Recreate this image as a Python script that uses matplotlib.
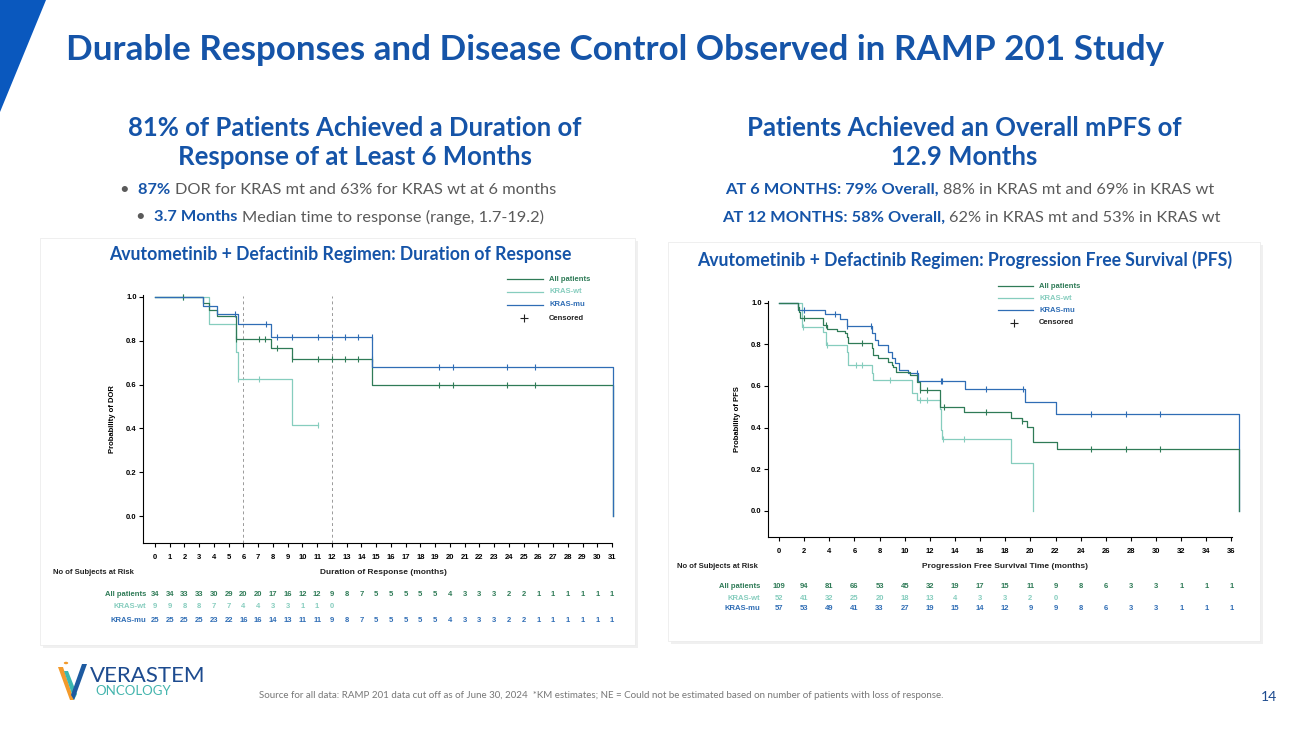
import numpy as np
import matplotlib
matplotlib.use('Agg')
import matplotlib.pyplot as plt
from matplotlib.lines import Line2D
from matplotlib.patches import Rectangle, Polygon, Circle
from matplotlib.transforms import blended_transform_factory

W, H = 1300, 731
HEAD = ['Lato', 'DejaVu Sans']
CHART = ['Liberation Sans', 'DejaVu Sans']
plt.rcParams['font.family'] = CHART

BLUE = '#1554A8'
GREEN = '#2F7B57'
WT = '#86CDBE'
MU = '#2F6DB5'
GREY = '#5A5A5A'

groups = ['All patients', 'KRAS-wt', 'KRAS-mu']
group_colors = [GREEN, WT, MU]

# ---- Duration of response (months) ----
dor_all_t = [0, 3.23, 3.68, 4.18, 5.5, 7.9, 9.27, 14.73, 31.05]
dor_all_s = [1.0, 0.971, 0.941, 0.912, 0.81, 0.765, 0.717, 0.596, 0.0]
dor_all_c = [1.92, 5.5, 7.07, 7.45, 8.25, 9.27, 11.08, 11.98, 12.9, 13.8, 14.7,
             19.3, 20.2, 23.9, 25.76]
dor_wt_t = [0, 3.68, 5.5, 5.6, 9.27, 11.08]
dor_wt_s = [1.0, 0.875, 0.75, 0.625, 0.417, 0.417]
dor_wt_c = [1.92, 5.6, 7.07, 11.08]
dor_mu_t = [0, 3.23, 4.18, 5.6, 7.9, 14.73, 31.05]
dor_mu_s = [1.0, 0.96, 0.92, 0.877, 0.818, 0.68, 0.0]
dor_mu_c = [5.45, 7.5, 8.25, 9.27, 11.08, 11.98, 12.9, 13.8, 14.7,
            19.3, 20.2, 23.9, 25.76]

dor_months = list(range(0, 32))
dor_risk_all = [34, 34, 33, 33, 30, 29, 20, 20, 17, 16, 12, 12, 9, 8, 7, 5, 5, 5, 5, 5,
                4, 3, 3, 3, 2, 2, 1, 1, 1, 1, 1, 1]
dor_risk_wt = [9, 9, 8, 8, 7, 7, 4, 4, 3, 3, 1, 1, 0]
dor_risk_mu = [25, 25, 25, 25, 23, 22, 16, 16, 14, 13, 11, 11, 9, 8, 7, 5, 5, 5, 5, 5,
               4, 3, 3, 3, 2, 2, 1, 1, 1, 1, 1, 1]

# ---- Progression free survival (months) ----
pfs_all_t = [0, 1.5, 1.6, 1.7, 3.53, 3.8, 4.6, 5.25, 5.38, 5.52, 7.37, 7.5, 7.9, 8.7,
             8.97, 9.1, 9.28, 10.42, 10.95, 11.2, 12.8, 14.75, 18.43, 19.3, 19.7, 20.23,
             22.1, 36.6]
pfs_all_s = [1.0, 0.98, 0.955, 0.925, 0.893, 0.872, 0.865, 0.856, 0.837, 0.805, 0.78,
             0.749, 0.733, 0.716, 0.70, 0.689, 0.668, 0.652, 0.62, 0.578, 0.50, 0.473,
             0.444, 0.433, 0.404, 0.332, 0.295, 0.0]
pfs_all_c = [1.5, 1.95, 3.74, 6.59, 11.2, 11.77, 13.1, 16.47, 19.37, 24.8, 27.6, 30.3]
pfs_wt_t = [0, 1.8, 3.53, 3.7, 5.38, 5.5, 7.37, 7.5, 10.6, 10.95, 12.8, 12.85, 12.9,
            12.95, 18.43, 20.23]
pfs_wt_s = [1.0, 0.885, 0.86, 0.797, 0.765, 0.70, 0.66, 0.628, 0.564, 0.532, 0.49, 0.44,
            0.39, 0.345, 0.231, 0.0]
pfs_wt_c = [1.9, 3.8, 6.1, 6.63, 8.83, 11.2, 11.75, 13.07, 14.75]
pfs_mu_t = [0, 1.55, 3.66, 4.85, 5.38, 7.37, 7.64, 7.9, 8.7, 9.0, 9.23, 9.55, 10.29,
            11.03, 14.8, 19.55, 22.05, 36.6]
pfs_mu_s = [1.0, 0.965, 0.945, 0.92, 0.89, 0.853, 0.82, 0.797, 0.765, 0.734, 0.71, 0.676,
            0.662, 0.625, 0.585, 0.525, 0.465, 0.0]
pfs_mu_c = [1.95, 4.45, 5.4, 7.3, 10.95, 12.85, 12.95, 16.5, 19.4, 24.8, 27.6, 30.3]

pfs_months = list(range(0, 37, 2))
pfs_risk_all = [109, 94, 81, 66, 53, 45, 32, 19, 17, 15, 11, 9, 8, 6, 3, 3, 1, 1, 1]
pfs_risk_wt = [52, 41, 32, 25, 20, 18, 13, 4, 3, 3, 2, 0]
pfs_risk_mu = [57, 53, 49, 41, 33, 27, 19, 15, 14, 12, 9, 9, 8, 6, 3, 3, 1, 1, 1]

fig = plt.figure(figsize=(W / 100, H / 100), dpi=100)
fig.patch.set_facecolor('white')


def fy(y):
    return 1 - y / H


def ftext(x, y, s, **kw):
    return fig.text(x / W, fy(y), s, **kw)


def add_axes_px(l, t, r, b):
    ax = fig.add_axes([l / W, fy(b), (r - l) / W, (b - t) / H])
    ax.set_zorder(3)
    return ax


def panel(l, t, r, b):
    fig.add_artist(Rectangle((l / W + 0.002, fy(b) - 0.004), (r - l) / W, (b - t) / H,
                             transform=fig.transFigure, facecolor='#000000', alpha=0.06,
                             edgecolor='none', zorder=0))
    fig.add_artist(Rectangle((l / W, fy(b)), (r - l) / W, (b - t) / H,
                             transform=fig.transFigure, facecolor='white',
                             edgecolor='#ececec', lw=0.6, zorder=0.5))


def rich_line(xc, y, parts, size):
    r = fig.canvas.get_renderer()
    objs = []
    for s, bold, col in parts:
        objs.append(ftext(0, y, s, fontsize=size, fontweight='bold' if bold else 'normal',
                          color=col, family=HEAD, va='center', ha='left'))
    widths = [o.get_window_extent(r).width for o in objs]
    x = xc - sum(widths) / 2
    for o, w in zip(objs, widths):
        o.set_x(x / W)
        x += w


def km(ax, t, s, cens, color, z):
    ax.step(t, s, where='post', color=color, lw=0.9, zorder=z, clip_on=False)
    cy = [s[np.searchsorted(t, c, side='right') - 1] for c in cens]
    ax.plot(cens, cy, ls='none', marker='|', ms=5, mew=0.8, color=color, zorder=z,
            clip_on=False)


def style_axes(ax, xticks, ylabel):
    for side in ['top', 'right']:
        ax.spines[side].set_visible(False)
    for side in ['left', 'bottom']:
        ax.spines[side].set_linewidth(0.8)
    ax.set_xticks(xticks)
    ax.set_yticks([0, 0.2, 0.4, 0.6, 0.8, 1.0])
    ax.set_yticklabels(['0.0', '0.2', '0.4', '0.6', '0.8', '1.0'])
    ax.tick_params(axis='x', length=3, width=0.8, labelsize=5.5, pad=5)
    ax.tick_params(axis='y', length=3, width=0.8, labelsize=5.5, pad=1.5)
    for lab in ax.get_xticklabels() + ax.get_yticklabels():
        lab.set_fontweight('bold')
    ax.set_ylabel(ylabel, fontsize=5.5, fontweight='bold', labelpad=7)
    ax.patch.set_alpha(0)


def legend(x1, x2, xl, ys, xm):
    for name, col, y in zip(groups, group_colors, ys):
        fig.add_artist(Line2D([x1 / W, x2 / W], [fy(y), fy(y)], color=col, lw=0.9,
                              transform=fig.transFigure, zorder=4))
        ftext(xl, y, name, fontsize=5.5, fontweight='bold', color=col, va='center')
    fig.add_artist(Line2D([xm / W], [fy(ys[-1] + 13)], marker='+', ms=6, mew=0.8,
                          color='#222222', transform=fig.transFigure, zorder=4))
    ftext(xl, ys[-1] + 13, 'Censored', fontsize=5.5, fontweight='bold', color='#222222',
          va='center')


def risk_table(ax, months, rows, label_x, row_ys, head_x, head_y, xlabel, xlabel_x):
    tr = blended_transform_factory(ax.transData, fig.transFigure)
    for name, col, vals, y in zip(groups, group_colors, rows, row_ys):
        ftext(label_x, y, name, fontsize=5.5, fontweight='bold', color=col,
              ha='right', va='center')
        for m, v in zip(months, vals):
            ax.text(m, fy(y), str(v), transform=tr, fontsize=5.5, fontweight='bold',
                    color=col, ha='center', va='center', clip_on=False)
    ftext(head_x, head_y, 'No of Subjects at Risk', fontsize=5.5, fontweight='bold',
          color='#222222', va='center')
    ax.text(xlabel_x, fy(head_y), xlabel, transform=tr, fontsize=6, fontweight='bold',
            color='#222222', ha='center', va='center')


# ---- slide decoration ----
fig.add_artist(Polygon([(0, 1), (46 / W, 1), (0, fy(112))], closed=True,
                       transform=fig.transFigure, facecolor='#0A58BE', edgecolor='none'))
ftext(66, 50, 'Durable Responses and Disease Control Observed in RAMP 201 Study',
      fontsize=25.2, fontweight='bold', color=BLUE, family=HEAD, va='center')

ftext(355, 128, '81% of Patients Achieved a Duration of', fontsize=18.5, fontweight='bold',
      color=BLUE, family=HEAD, ha='center', va='center')
ftext(355, 157, 'Response of at Least 6 Months', fontsize=18.5, fontweight='bold',
      color=BLUE, family=HEAD, ha='center', va='center')
rich_line(338, 190, [('\u2022  ', False, GREY), ('87% ', True, BLUE),
                     ('DOR for KRAS mt and 63% for KRAS wt at 6 months', False, GREY)], 11.8)
rich_line(340, 217, [('\u2022  ', False, GREY), ('3.7 Months ', True, BLUE),
                     ('Median time to response (range, 1.7-19.2)', False, GREY)], 11.8)

ftext(964, 128, 'Patients Achieved an Overall mPFS of', fontsize=18.5, fontweight='bold',
      color=BLUE, family=HEAD, ha='center', va='center')
ftext(964, 157, '12.9 Months', fontsize=18.5, fontweight='bold', color=BLUE, family=HEAD,
      ha='center', va='center')
rich_line(970, 190, [('AT 6 MONTHS: 79% Overall, ', True, BLUE),
                     ('88% in KRAS mt and 69% in KRAS wt', False, GREY)], 11.8)
rich_line(971, 218, [('AT 12 MONTHS: 58% Overall, ', True, BLUE),
                     ('62% in KRAS mt and 53% in KRAS wt', False, GREY)], 11.8)

panel(40, 238, 635, 645)
panel(668, 242, 1260, 641)

ftext(340, 255, 'Avutometinib + Defactinib Regimen: Duration of Response', fontsize=12.7,
      fontweight='bold', color=BLUE, family=HEAD, ha='center', va='center')
ftext(965, 260, 'Avutometinib + Defactinib Regimen: Progression Free Survival (PFS)',
      fontsize=12.7, fontweight='bold', color=BLUE, family=HEAD, ha='center', va='center')

# ---- left chart: DOR ----
ax1 = add_axes_px(143, 295, 612, 543)
ax1.set_xlim(-0.81, 31)
ax1.set_ylim(-0.123, 1.009)
for v in [6, 12]:
    ax1.axvline(v, ymin=0, ymax=0.995, color='#9a9a9a', lw=0.7, ls=(0, (3, 3)), zorder=1)
km(ax1, dor_wt_t, dor_wt_s, dor_wt_c, WT, 2)
km(ax1, dor_all_t, dor_all_s, dor_all_c, GREEN, 3)
km(ax1, dor_mu_t, dor_mu_s, dor_mu_c, MU, 4)
style_axes(ax1, dor_months, 'Probability of DOR')
legend(507, 543, 549, [279, 292, 305], 524)
risk_table(ax1, dor_months, [dor_risk_all, dor_risk_wt, dor_risk_mu], 146,
           [594, 607, 620], 53, 573, 'Duration of Response (months)', 15.5)

# ---- right chart: PFS ----
ax2 = add_axes_px(768, 301, 1232, 537)
ax2.set_xlim(-0.875, 36.04)
ax2.set_ylim(-0.126, 1.008)
km(ax2, pfs_wt_t, pfs_wt_s, pfs_wt_c, WT, 2)
km(ax2, pfs_mu_t, pfs_mu_s, pfs_mu_c, MU, 3)
km(ax2, pfs_all_t, pfs_all_s, pfs_all_c, GREEN, 4)
style_axes(ax2, pfs_months, 'Probability of PFS')
legend(998, 1033, 1039, [286, 298, 310], 1014)
risk_table(ax2, pfs_months, [pfs_risk_all, pfs_risk_wt, pfs_risk_mu], 760,
           [586, 598, 609], 677, 566, 'Progression Free Survival Time (months)', 18)

# ---- footer ----
for pts, col in [([(58, 667), (63, 667), (74, 700), (70, 700)], '#F39A2B'),
                 ([(64, 671), (68, 671), (77, 694), (74, 700)], '#3BB8B0'),
                 ([(82, 664), (87, 664), (74, 700), (71, 695)], '#1D5AA0')]:
    fig.add_artist(Polygon([(x / W, fy(y)) for x, y in pts], closed=True,
                           transform=fig.transFigure, facecolor=col, edgecolor='none'))
fig.add_artist(Circle((66 / W, fy(663)), 2.2 / W, transform=fig.transFigure,
                      facecolor='#F39A2B', edgecolor='none'))
ftext(90, 676, 'VERASTEM', fontsize=16, color='#1D4B8F', family=HEAD, va='center')
ftext(95, 691, 'ONCOLOGY', fontsize=9.5, color='#45B5AE', family=HEAD, va='center')
ftext(259, 695, 'Source for all data: RAMP 201 data cut off as of June 30, 2024  *KM '
      'estimates; NE = Could not be estimated based on number of patients with loss of '
      'response.', fontsize=7, color='#777777', family=HEAD, va='center')
ftext(1269, 697, '14', fontsize=10, color='#1D4B8F', family=HEAD, ha='center',
      va='center')

fig.savefig('out.png', dpi=100)
